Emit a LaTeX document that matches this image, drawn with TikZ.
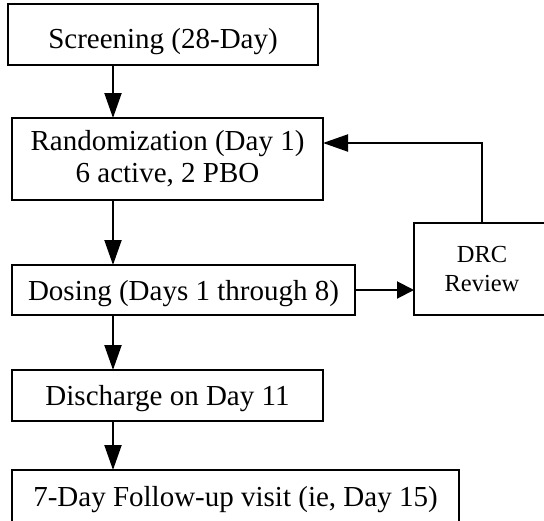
\documentclass[tikz,border=0pt]{standalone}
\usepackage{fontspec}
\setmainfont{Liberation Serif}
\usetikzlibrary{arrows.meta}
\begin{document}
\begin{tikzpicture}[x=1pt,y=-1pt,
  stage/.style={draw, line width=1.2pt, inner sep=0pt, outer sep=0pt,
    font=\fontsize{29}{32}\selectfont, align=center},
  oneline/.style={text height=20pt, text depth=0pt},
  flow/.style={line width=2pt, -{Triangle[length=25pt,width=17pt]}},
  shortflow/.style={line width=2pt, -{Triangle[length=17pt,width=17pt]}}]
\useasboundingbox (0,0) rectangle (544,520);
\clip (0,0) rectangle (544,520);

% stages of the study
\node[stage, oneline, text height=28pt, minimum width=310pt, minimum height=61pt]
  (screen) at (163,34.5) {Screening (28-Day)};
\node[stage, minimum width=311pt, minimum height=82pt]
  (rand) at (167.5,159) {Randomization (Day 1)\\6 active, 2 PBO};
\node[stage, oneline, minimum width=343pt, minimum height=50pt]
  (dose) at (183.5,290) {Dosing (Days 1 through 8)};
\node[stage, font=\fontsize{24.5}{29}\selectfont, minimum width=136pt, minimum height=92pt]
  (drc) at (482,269) {DRC\\Review};
\node[stage, oneline, minimum width=311pt, minimum height=51pt]
  (dis) at (167.5,395.5) {Discharge on Day 11};
\node[stage, oneline, minimum width=447pt, minimum height=52pt]
  (fu) at (235.5,496) {7-Day Follow-up visit (ie, Day 15)};

% main vertical flow
\coordinate (spine) at (113,0);
\draw[flow] (screen.south -| spine) -- (rand.north -| spine);
\draw[flow] (rand.south -| spine) -- (dose.north -| spine);
\draw[flow] (dose.south -| spine) -- (dis.north -| spine);
\draw[flow] (dis.south -| spine) -- (fu.north -| spine);

% review loop
\draw[shortflow] (dose.east) -- (dose.east -| drc.west);
\coordinate (loop) at (0,143);
\draw[flow] (drc.north) |- (rand.east |- loop);
\end{tikzpicture}
\end{document}
